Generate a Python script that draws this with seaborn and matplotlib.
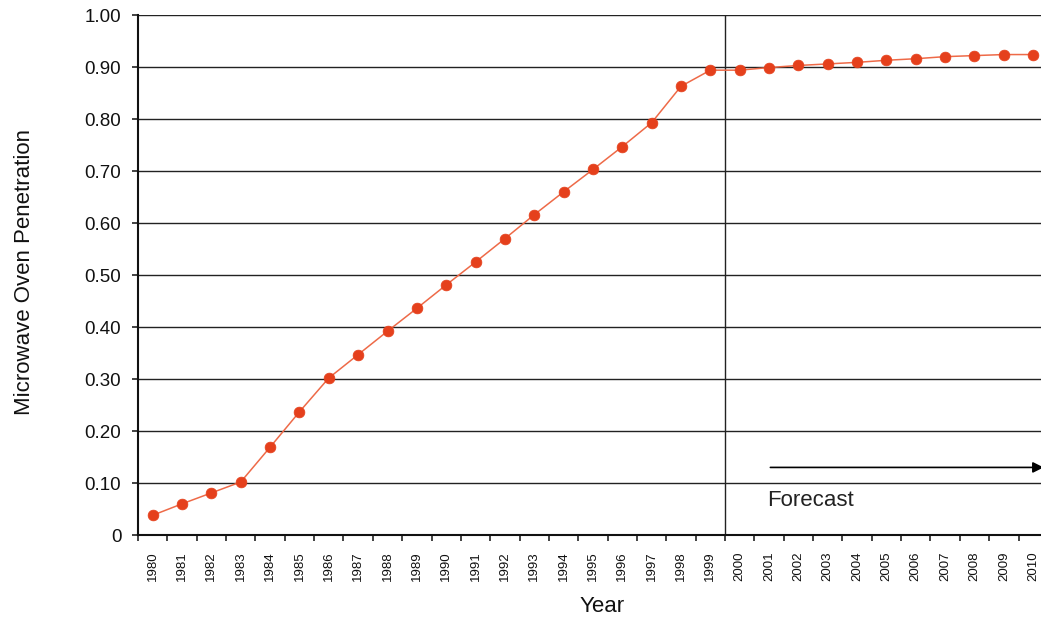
import numpy as np
import pandas as pd
import matplotlib
matplotlib.use("Agg")
import matplotlib.pyplot as plt
import seaborn as sns

# Microwave oven household penetration, actual (to 1999) and forecast (2000 on)
years = list(range(1980, 2011))
penetration = [
    0.038, 0.060, 0.081, 0.102, 0.169, 0.237, 0.302, 0.347, 0.392, 0.436,
    0.481, 0.525, 0.570, 0.616, 0.660, 0.703, 0.747, 0.793, 0.863, 0.894,
    0.894, 0.899, 0.903, 0.906, 0.909, 0.913, 0.916, 0.920, 0.922, 0.924,
    0.924,
]
y_ticks = [0.0, 0.1, 0.2, 0.3, 0.4, 0.5, 0.6, 0.7, 0.8, 0.9, 1.0]
y_tick_labels = ["0", "0.10", "0.20", "0.30", "0.40", "0.50", "0.60",
                 "0.70", "0.80", "0.90", "1.00"]
forecast_start = 2000

df = pd.DataFrame({"Year": years, "Penetration": penetration})

sns.set_theme(style="white")
plt.rcParams["font.family"] = ["Liberation Sans", "DejaVu Sans"]

fig = plt.figure(figsize=(10.41, 6.24), dpi=100)
ax = fig.add_axes([0.1326, 0.1426, 0.874, 0.8333])

line_color = "#EE6A48"
marker_color = "#E5401C"

sns.lineplot(data=df, x="Year", y="Penetration", ax=ax, color=line_color,
             linewidth=1.1, zorder=3)
sns.scatterplot(data=df, x="Year", y="Penetration", ax=ax, color=marker_color,
                s=60, edgecolor=marker_color, linewidth=0.5, zorder=4)

ax.set_xlim(years[0] - 0.5, years[-1] + 0.5)
ax.set_ylim(0, 1.0)

# horizontal grid
ax.set_yticks(y_ticks)
ax.set_yticklabels(y_tick_labels, fontsize=13.5, color="#111111")
for yv in y_ticks[1:]:
    ax.axhline(yv, color="#222222", linewidth=1.0, zorder=1)

# tick marks on category boundaries, labels at category centres
ax.set_xticks([y - 0.5 for y in years] + [years[-1] + 0.5])
ax.set_xticklabels([])
ax.set_xticks(years, minor=True)
ax.set_xticklabels([str(y) for y in years], minor=True, rotation=90,
                   fontsize=9.5, color="#111111")
ax.tick_params(axis="x", which="major", length=4, width=1.2, color="#222222",
               bottom=True, direction="out")
ax.tick_params(axis="x", which="minor", length=0, pad=12)
ax.tick_params(axis="y", which="major", length=4, width=1.2, color="#222222",
               left=True, direction="out", pad=8)

for side in ["left", "bottom"]:
    ax.spines[side].set_color("#111111")
    ax.spines[side].set_linewidth(1.5)
ax.spines["top"].set_visible(False)
ax.spines["right"].set_visible(False)

# boundary between history and forecast
ax.axvline(forecast_start - 0.5, color="#222222", linewidth=1.0, zorder=2)
ax.annotate("", xy=(years[-1] + 0.45, 0.13), xytext=(forecast_start + 0.95, 0.13),
            arrowprops=dict(arrowstyle="-|>", color="black", lw=1.2,
                            mutation_scale=16))
ax.text(forecast_start + 0.95, 0.067, "Forecast", fontsize=16, va="center",
        ha="left", color="#222222")

ax.set_xlabel("Year", fontsize=16, color="#111111")
ax.set_ylabel("Microwave Oven Penetration", fontsize=16, color="#111111")
ax.xaxis.set_label_coords(0.5097, -0.118)
ax.yaxis.set_label_coords(-0.113, 0.505)

fig.savefig("out.png", dpi=100)
